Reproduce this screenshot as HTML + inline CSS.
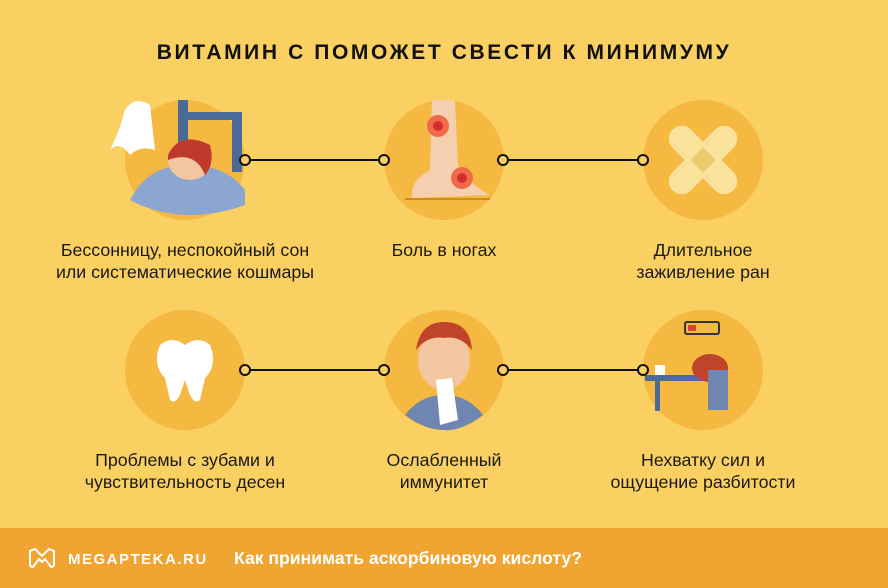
<!DOCTYPE html>
<html><head><meta charset="utf-8"><style>
body{margin:0;width:888px;height:588px;overflow:hidden;background:#FBD063;font-family:"Liberation Sans",sans-serif}
svg{position:absolute;left:0;top:0}
.l{position:absolute;width:340px;text-align:center;font-size:17.8px;line-height:22px;color:#1a1a1a}
</style></head><body>
<svg width="888" height="588">
<rect width="888" height="588" fill="#FBD063"/>
<text x="444" y="59" text-anchor="middle" font-family="Liberation Sans" font-weight="bold" font-size="21" letter-spacing="2.6" fill="#111">ВИТАМИН С ПОМОЖЕТ СВЕСТИ К МИНИМУМУ</text>
<g fill="#F5B840">
<circle cx="185" cy="160" r="60"/><circle cx="444" cy="160" r="60"/><circle cx="703" cy="160" r="60"/>
<circle cx="185" cy="370" r="60"/><circle cx="444" cy="370" r="60"/><circle cx="703" cy="370" r="60"/>
</g>
<!-- sleep -->
<rect x="178" y="100" width="10" height="80" fill="#4A6A9A"/><rect x="180" y="112" width="62" height="8" fill="#4A6A9A"/><rect x="232" y="112" width="10" height="60" fill="#4A6A9A"/>
<path d="M130 200 Q150 160 200 165 Q230 170 245 190 L245 205 Q190 225 140 205 Z" fill="#8BA6D0"/>
<ellipse cx="190" cy="160" rx="22" ry="20" fill="#F2C6A0"/><path d="M168 155 Q180 130 210 145 Q215 165 205 175 Q195 150 168 160Z" fill="#C0392B"/>
<path d="M125 110 Q135 95 150 105 L155 150 Q140 145 130 155 Q120 140 110 150 Q120 130 125 110Z" fill="#fff"/>
<!-- legs -->
<path d="M432 100 L455 100 L458 165 Q470 185 490 195 L412 198 Q410 180 430 170 Z" fill="#F5D0B0"/>
<circle cx="438" cy="126" r="11" fill="#F06A4A"/><circle cx="438" cy="126" r="5" fill="#D32F2F"/>
<circle cx="462" cy="178" r="11" fill="#F06A4A"/><circle cx="462" cy="178" r="5" fill="#D32F2F"/>
<line x1="405" y1="199" x2="490" y2="199" stroke="#D28A20" stroke-width="2"/>
<!-- bandage -->
<g fill="#FBE29A"><rect x="660" y="147" width="86" height="26" rx="13" transform="rotate(45 703 160)"/><rect x="660" y="147" width="86" height="26" rx="13" transform="rotate(-45 703 160)"/></g>
<rect x="694" y="151" width="18" height="18" fill="#EFCB70" transform="rotate(45 703 160)"/>
<!-- tooth -->
<path d="M160 345 Q172 335 185 345 Q198 335 210 345 Q218 365 205 378 L200 400 Q195 405 190 395 L185 380 L180 395 Q175 405 170 400 L165 378 Q152 365 160 345Z" fill="#fff"/>
<!-- sick -->
<path d="M405 415 Q420 395 444 395 Q468 395 483 415 Q460 432 444 430 Q425 430 405 415Z" fill="#6E86B0"/>
<ellipse cx="444" cy="360" rx="26" ry="30" fill="#F2C6A0"/><path d="M416 350 Q420 322 444 322 Q470 322 472 350 Q460 335 444 338 Q428 335 416 350Z" fill="#C0442A"/>
<path d="M436 380 L452 378 L458 420 L440 425 Z" fill="#fff"/>
<!-- tired -->
<rect x="685" y="322" width="34" height="12" rx="2" fill="none" stroke="#333" stroke-width="2"/><rect x="688" y="325" width="8" height="6" fill="#E04030"/>
<rect x="645" y="375" width="70" height="6" fill="#4A6A9A"/><rect x="655" y="381" width="5" height="30" fill="#4A6A9A"/>
<ellipse cx="710" cy="368" rx="18" ry="14" fill="#C0442A"/><rect x="708" y="370" width="20" height="40" fill="#6E86B0"/>
<rect x="655" y="365" width="10" height="10" fill="#fff"/>
<!-- connectors -->
<g stroke="#111" stroke-width="2" fill="#FBD063">
<line x1="245" y1="160" x2="384" y2="160"/><line x1="503" y1="160" x2="643" y2="160"/>
<line x1="245" y1="370" x2="384" y2="370"/><line x1="503" y1="370" x2="643" y2="370"/>
<circle cx="245" cy="160" r="5"/><circle cx="384" cy="160" r="5"/><circle cx="503" cy="160" r="5"/><circle cx="643" cy="160" r="5"/>
<circle cx="245" cy="370" r="5"/><circle cx="384" cy="370" r="5"/><circle cx="503" cy="370" r="5"/><circle cx="643" cy="370" r="5"/>
</g>
<rect x="0" y="528" width="888" height="60" fill="#F0A532"/>
<path d="M30 551 L35 549 L42 556 L49 549 L54 551 L54 564 Q54 567 51 567 L45 559 L42 562 L39 559 L33 567 Q30 567 30 564Z" fill="none" stroke="#fff" stroke-width="2"/>
<text x="68" y="564" font-family="Liberation Sans" font-weight="bold" font-size="15" letter-spacing="1.5" fill="#fff">MEGAPTEKA.RU</text>
<text x="234" y="564" font-family="Liberation Sans" font-weight="bold" font-size="17.6" fill="#fff">Как принимать аскорбиновую кислоту?</text>
</svg>
<div class="l" style="left:15px;top:239px">Бессонницу, неспокойный сон<br>или систематические кошмары</div>
<div class="l" style="left:274px;top:239px">Боль в ногах</div>
<div class="l" style="left:533px;top:239px">Длительное<br>заживление ран</div>
<div class="l" style="left:15px;top:449px">Проблемы с зубами и<br>чувствительность десен</div>
<div class="l" style="left:274px;top:449px">Ослабленный<br>иммунитет</div>
<div class="l" style="left:533px;top:449px">Нехватку сил и<br>ощущение разбитости</div>
</body></html>
